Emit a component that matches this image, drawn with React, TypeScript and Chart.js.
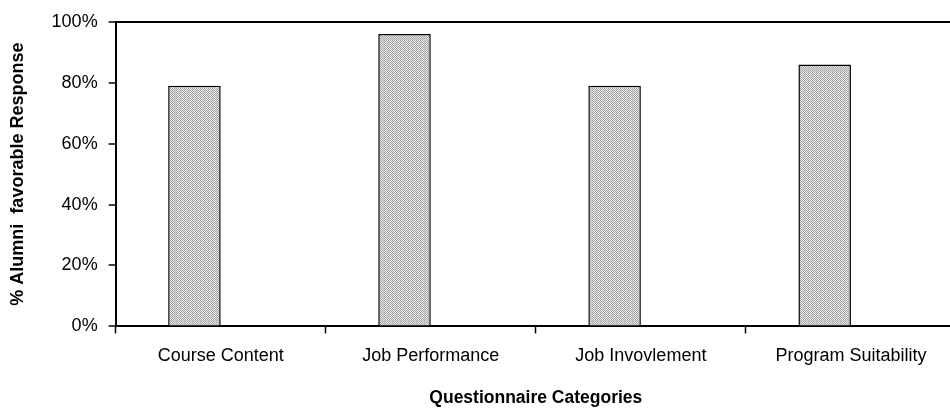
import React, { useEffect, useRef } from "react";
import { Chart, registerables } from "chart.js";

Chart.register(...registerables);

const categories = ["Course Content", "Job Performance", "Job Invovlement", "Program Suitability"];
const favorable = [79, 96, 79, 86];
const emptySeries = [null, null, null, null];
const yTicks = [0, 20, 40, 60, 80, 100];

function makePattern(): CanvasPattern | string {
  const c = document.createElement("canvas");
  c.width = 4;
  c.height = 4;
  const g = c.getContext("2d");
  if (!g) return "#c0c0c0";
  for (let y = 0; y < 4; y++) {
    for (let x = 0; x < 4; x++) {
      const dark = (x + y) % 2 === 0;
      g.fillStyle = dark ? (x % 4 === 0 ? "#9c9c9c" : "#acacac") : "#e2e2e2";
      g.fillRect(x, y, 1, 1);
    }
  }
  const p = g.createPattern(c, "repeat");
  return p || "#c0c0c0";
}

export default function App() {
  const ref = useRef<HTMLCanvasElement | null>(null);
  useEffect(() => {
    document.documentElement.style.overflow = "hidden";
    document.body.style.overflow = "hidden";
    if (!ref.current) return;
    const pattern = makePattern();
    const font = "'Liberation Sans', Arial, sans-serif";
    const chart = new Chart(ref.current, {
      type: "bar",
      data: {
        labels: categories,
        datasets: [
          {
            data: favorable,
            backgroundColor: pattern as any,
            borderColor: "#000",
            borderWidth: { top: 1.5, left: 1.5, right: 1.5, bottom: 0 },
            borderSkipped: "bottom",
            categoryPercentage: 0.5,
            barPercentage: 1,
          },
          {
            data: emptySeries as any,
            backgroundColor: "transparent",
            categoryPercentage: 0.5,
            barPercentage: 1,
          },
        ],
      },
      options: {
        animation: false,
        responsive: true,
        maintainAspectRatio: false,
        layout: { padding: { top: 5, right: 0, left: 7, bottom: 4 } },
        plugins: { legend: { display: false }, tooltip: { enabled: false } },
        scales: {
          x: {
            offset: true,
            grid: {
              offset: true,
              drawOnChartArea: false,
              drawTicks: true,
              tickLength: 7,
              tickColor: "#000",
              tickWidth: 1.5,
            },
            border: { color: "#000", width: 2 },
            ticks: {
              color: "#000",
              font: { family: font, size: 18 },
              padding: 12,
              maxRotation: 0,
            },
            title: {
              display: true,
              text: "Questionnaire Categories",
              color: "#000",
              font: { family: font, size: 17.5, weight: "bold" },
              padding: { top: 9, bottom: 0 },
            },
          },
          y: {
            min: 0,
            max: 100,
            afterBuildTicks: (axis: any) => {
              axis.ticks = yTicks.map((v) => ({ value: v }));
            },
            grid: {
              color: (ctx: any) => (ctx.tick && ctx.tick.value === 100 ? "#000" : "rgba(0,0,0,0)"),
              lineWidth: 2,
              tickLength: 7,
              tickColor: "#000",
              tickWidth: 1.5,
            },
            border: { color: "#000", width: 2 },
            ticks: {
              color: "#000",
              font: { family: font, size: 18 },
              padding: 11,
              callback: (v: any) => v + "%",
            },
            title: {
              display: true,
              text: "% Alumni  favorable Response",
              color: "#000",
              font: { family: font, size: 18, weight: "bold" },
              padding: { top: 0, bottom: 12 },
            },
          },
        },
      },
    });
    return () => chart.destroy();
  }, []);
  return (
    <div style={{ position: "absolute", left: 0, top: 0, width: 956, height: 413 }}>
      <canvas ref={ref} />
    </div>
  );
}
